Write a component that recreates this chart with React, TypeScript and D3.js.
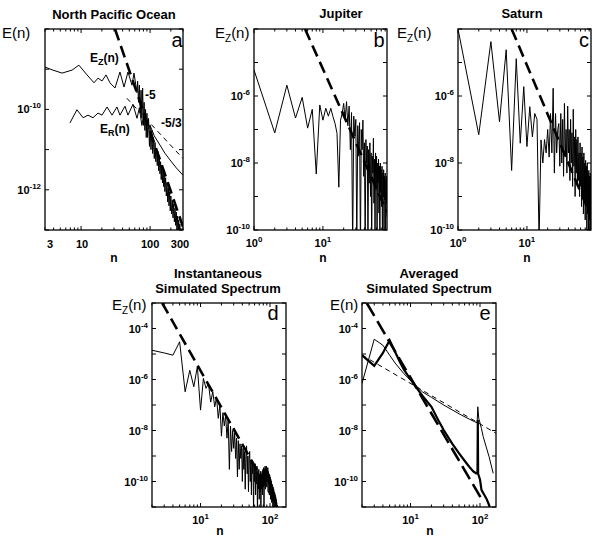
import React from 'react';
import * as d3 from 'd3';

type Pt = [number, number];

// ===================== DATA =====================
// (a) North Pacific Ocean
const pacificEZ: Pt[] = [
  [3, 1.13e-9], [3.9, 9.5e-10], [5.3, 8.0e-10], [7.4, 9.5e-10], [9.3, 1.26e-9],
  [12.2, 7.2e-10], [15.4, 4.6e-10], [17.6, 6.0e-10], [20.1, 5.1e-10], [23, 7.2e-10],
  [26.2, 4.6e-10], [31, 3.4e-10], [36.6, 8.5e-10], [41.9, 3.6e-10], [47.8, 8.5e-10],
  [54.7, 4.0e-10], [58.5, 8.0e-10], [64.6, 2.6e-10],
  [66, 5e-10], [68, 1.5e-10], [70, 4e-10], [72, 8e-11], [74, 3e-10], [76, 6e-11],
  [78, 3.4e-10], [80, 4e-11], [82, 1.5e-10], [84, 3e-11], [86, 1e-10], [88, 2e-11],
  [90, 8e-11], [92, 2e-11], [95, 6e-11], [98, 1.2e-11], [100, 4e-11], [103, 1e-11],
  [106, 3e-11], [109, 8e-12], [112, 2e-11], [115, 6e-12], [118, 1.5e-11], [121, 5e-12],
  [124, 1.1e-11], [127, 4e-12], [130, 9e-12], [133, 3e-12], [136, 7e-12], [139, 2.5e-12],
  [142, 5e-12], [145, 1.8e-12], [148, 4e-12], [151, 1.5e-12], [154, 3e-12], [157, 1.2e-12],
  [160, 2.5e-12], [164, 9e-13], [168, 2e-12], [172, 7e-13], [176, 1.5e-12], [180, 5e-13],
  [184, 1.1e-12], [188, 4e-13], [192, 9e-13], [196, 3e-13], [200, 7e-13], [205, 2.5e-13],
  [210, 5.5e-13], [215, 2e-13], [220, 4.5e-13], [225, 1.6e-13], [230, 3.5e-13], [235, 1.3e-13],
  [240, 2.8e-13], [245, 1e-13], [250, 2.2e-13], [255, 8e-14], [260, 1.8e-13], [265, 7e-14],
  [270, 1.4e-13], [275, 6e-14], [280, 1.1e-13], [285, 5e-14], [290, 9e-14], [295, 4e-14],
  [300, 7e-14],
];
const pacificER: Pt[] = [
  [6.9, 4.6e-11], [8.7, 9.8e-11], [10.7, 6.2e-11], [12.6, 7.2e-11], [14.9, 6.2e-11],
  [17.6, 8.1e-11], [20.1, 7.2e-11], [23.8, 1.15e-10], [28.1, 7.2e-11], [33.1, 1.15e-10],
  [36.6, 7.2e-11], [43.3, 1.2e-10], [47.8, 7.2e-11], [56.5, 1.34e-10], [64.6, 6e-11],
  [70, 1.1e-10], [76, 4e-11], [82, 8e-11], [90, 3e-11], [100, 4e-11], [115, 2.2e-11],
  [139, 1.3e-11], [165, 8e-12], [195, 5.5e-12], [240, 3.5e-12], [300, 2.3e-12],
];
const pacificRef5: Pt[] = [[31, 1e-8], [300, 1.2e-13]];
const pacificRef53: Pt[] = [[46, 1.9e-10], [300, 6e-12]];
const pacificXTicks = [3, 10, 100, 300];
const pacificYTicks = [1e-10, 1e-12];

// (b) Jupiter, n = 1..85
const jupiterE = [
  6.0e-6, 7.9e-8, 2.1e-6, 2.2e-7, 9.1e-7, 1.1e-7, 4.0e-7, 4.7e-9, 5.4e-7, 1.9e-7,
  4.3e-7, 2.5e-7, 4.3e-7, 2.4e-7, 1.5e-7, 7.7e-8, 1.9e-9, 1.9e-7, 3.0e-7, 6.0e-7,
  2.0e-7, 6.8e-7, 1.3e-7, 5.0e-7, 2.5e-8, 3.2e-7, 3.0e-11, 2.5e-7, 6.3e-8, 2.0e-7,
  4.0e-11, 1.3e-7, 1.6e-8, 1.6e-7, 2.5e-11, 1.0e-7, 2.5e-8, 1.9e-7, 4.0e-9, 4.0e-8,
  3.0e-11, 5.0e-8, 1.0e-8, 3.2e-8, 5.0e-11, 2.5e-8, 2.5e-9, 4.0e-8, 1.0e-9, 2.0e-8,
  2.5e-11, 1.6e-8, 5.0e-9, 5.5e-8, 6.3e-10, 1.3e-8, 4.0e-11, 2.0e-8, 1.6e-9, 1.6e-8,
  3.0e-11, 1.0e-8, 2.5e-9, 1.3e-8, 3.2e-10, 8.0e-9, 2.5e-11, 1.0e-8, 1.3e-9, 6.3e-9,
  5.0e-10, 8.0e-9, 3.0e-11, 5.0e-9, 1.0e-9, 6.3e-9, 4.0e-11, 4.0e-9, 8.0e-10, 5.0e-9,
  3.0e-11, 3.2e-9, 6.3e-10, 4.0e-9, 2.5e-10,
];
const jupiterRef: Pt[] = [[5.5, 1e-4], [85, 3.4e-10]];

// (c) Saturn, n = 1..85
const saturnE = [
  1.0e-4, 7.0e-8, 4.2e-5, 1.7e-7, 2.4e-5, 6.0e-9, 1.3e-5, 3.9e-8, 1.9e-6, 3.1e-8,
  4.8e-7, 6.0e-8, 3.0e-7, 2.0e-7, 5.0e-11, 4.9e-8, 1.0e-8, 5.0e-8, 2.0e-8, 1.0e-7,
  1.5e-8, 3.0e-7, 2.0e-8, 1.7e-6, 5.0e-9, 3.0e-7, 2.0e-8, 1.0e-7, 1.5e-7, 8.0e-9,
  3.0e-7, 1.0e-8, 2.0e-7, 4.0e-9, 6.0e-7, 1.5e-8, 1.0e-7, 5.0e-9, 5.0e-7, 2.0e-8,
  1.0e-7, 3.0e-9, 2.0e-7, 1.0e-8, 8.0e-8, 2.0e-9, 4.0e-7, 8.0e-9, 6.0e-8, 1.0e-9,
  1.0e-7, 5.0e-9, 5.0e-8, 2.0e-9, 6.0e-8, 3.0e-9, 2.0e-8, 1.0e-9, 4.0e-8, 2.0e-9,
  2.0e-8, 5.0e-10, 3.0e-8, 1.0e-9, 1.5e-8, 3.0e-10, 2.0e-8, 8.0e-10, 1.0e-8, 2.0e-10,
  1.2e-8, 5.0e-10, 8.0e-9, 1.0e-10, 1.0e-8, 3.0e-10, 5.0e-9, 8.0e-11, 6.0e-9, 2.0e-10,
  4.0e-9, 6.0e-11, 5.0e-9, 1.0e-10, 3.0e-9,
];
const saturnRef: Pt[] = [[6, 1e-4], [85, 2.5e-10]];
const planetXTicks = [1, 10];
const planetYTicks = [1e-6, 1e-8, 1e-10];

// (d) Instantaneous simulated spectrum, n = 2..128
const instantE = [
  1.4e-5, 1.1e-5, 9.0e-6, 3.0e-5, 3.3e-7, 2.3e-6, 5.2e-7, 3.2e-6, 6.3e-8, 1.1e-6,
  4.5e-7, 7.0e-7, 1.3e-7, 3.3e-7, 8.5e-8, 2.0e-7, 3.0e-8, 1.0e-7, 6.0e-9, 5.0e-8,
  1.5e-8, 4.0e-8, 5.0e-9, 2.5e-8, 3.0e-10, 1.5e-8, 1.5e-9, 1.0e-8, 2.0e-9, 8.0e-9,
  8.0e-10, 5.0e-9, 1.5e-10, 4.0e-9, 3.0e-10, 3.0e-9, 8.0e-10, 2.5e-9, 1.0e-10, 2.0e-9,
  3.0e-10, 1.5e-9, 5.0e-11, 1.2e-9, 2.5e-9, 2.0e-10, 1.0e-9, 4.0e-11, 8.0e-10, 1.5e-9,
  1.0e-10, 7.0e-10, 3.0e-11, 6.0e-10, 2.0e-10, 5.0e-10, 5.0e-12, 4.0e-10, 1.0e-10, 5.0e-10,
  3.0e-11, 3.0e-10, 8.0e-11, 4.0e-10, 5.0e-12, 2.5e-10, 5.0e-11, 3.0e-10, 2.0e-11, 2.0e-10,
  4.0e-11, 2.5e-10, 5.0e-12, 2.0e-10, 5.0e-11, 2.5e-10, 3.0e-11, 3.0e-10, 6.0e-11, 3.5e-10,
  1.0e-11, 3.0e-10, 8.0e-11, 4.0e-10, 5.0e-11, 3.5e-10, 1.0e-10, 4.0e-10, 6.0e-11, 3.0e-10,
  1.0e-10, 3.5e-10, 4.0e-11, 2.5e-10, 8.0e-11, 2.0e-10, 3.0e-11, 1.8e-10, 6.0e-11, 1.5e-10,
  2.0e-11, 1.2e-10, 5.0e-11, 1.0e-10, 1.5e-11, 8.0e-11, 3.0e-11, 7.0e-11, 1.0e-11, 6.0e-11,
  2.0e-11, 5.0e-11, 8.0e-12, 4.0e-11, 1.5e-11, 3.5e-11, 6.0e-12, 3.0e-11, 1.0e-11, 2.5e-11,
  5.0e-12, 2.0e-11, 8.0e-12, 1.5e-11, 5.0e-12, 1.2e-11, 4.0e-12,
];
const instantRef: Pt[] = [[2.8, 1e-3], [130, 1e-11]];

// (e) Averaged simulated spectrum
const averagedThick: Pt[] = [
  [2, 9e-6], [3, 3.4e-6], [4, 1.1e-5], [5, 3.5e-5], [6, 1.2e-5], [7, 5e-6], [8, 2.5e-6],
  [10, 1.0e-6], [12, 5e-7], [15, 2.2e-7], [20, 8.5e-8], [25, 2.6e-8], [30, 1.05e-8],
  [40, 3e-9], [50, 1.26e-9], [60, 6.5e-10], [70, 3.8e-10], [80, 2.5e-10], [88, 2.1e-10],
  [92, 2.1e-10], [93, 2.6e-8], [94, 2.0e-10], [100, 1.2e-10], [105, 4.7e-11],
  [115, 3e-11], [125, 2e-11], [135, 1.2e-11], [145, 6e-12],
];
const averagedThin: Pt[] = [
  [2, 7e-7], [3, 3.8e-5], [4, 2.2e-5], [5, 9e-6], [6, 4.4e-6], [8, 1.7e-6], [11, 7.2e-7],
  [15, 3.2e-7], [20, 2.0e-7], [30, 1.0e-7], [50, 4.5e-8], [70, 2.8e-8], [84, 2.2e-8],
  [91, 2.0e-8], [93, 8.5e-8], [96, 3e-8], [105, 1.2e-8], [111, 5.8e-9], [135, 9.4e-10],
  [155, 2.1e-10],
];
const averagedRef5: Pt[] = [[2.34, 1e-3], [111, 1.6e-11]];
const averagedRef53: Pt[] = [[2, 9e-6], [170, 7.8e-9]];
const simXTicks = [10, 100];
const simYTicks = [1e-4, 1e-6, 1e-8, 1e-10];

// ===================== RENDERING =====================
const FONT = "'Liberation Sans', Arial, Helvetica, sans-serif";

type Box = { x0: number; x1: number; y0: number; y1: number };

function logTicks(min: number, max: number) {
  const out: { v: number; major: boolean }[] = [];
  for (let d = Math.floor(Math.log10(min)); d <= Math.ceil(Math.log10(max)); d++) {
    for (let k = 1; k < 10; k++) {
      const v = k * Math.pow(10, d);
      if (v >= min * 0.999 && v <= max * 1.001) out.push({ v, major: k === 1 });
    }
  }
  return out;
}

function decades(min: number, max: number) {
  const out: number[] = [];
  for (let d = Math.ceil(Math.log10(min) - 1e-9); d <= Math.floor(Math.log10(max) + 1e-9); d++) out.push(Math.pow(10, d));
  return out;
}

function Pow({ x, y, exp, anchor, size = 11 }: { x: number; y: number; exp: string; anchor: string; size?: number }) {
  return (
    <text x={x} y={y} textAnchor={anchor as any} fontFamily={FONT} fontWeight="bold" fontSize={size}>
      10<tspan dy={-5} fontSize={size * 0.72}>{exp}</tspan>
    </text>
  );
}

function Frame({ box, xs, ys, xLabels, yLabels, xPow, xLabelDx }: any) {
  const [dx0, dx1] = xs.domain();
  const [dy0, dy1] = ys.domain();
  const xt = logTicks(dx0, dx1);
  const yt = decades(dy0, dy1);
  return (
    <g>
      {xt.map((t, i) => {
        const x = xs(t.v);
        const L = t.major ? 4 : 2.5;
        return (
          <g key={'xt' + i}>
            <line x1={x} x2={x} y1={box.y1} y2={box.y1 - L} stroke="#000" strokeWidth={1} />
            <line x1={x} x2={x} y1={box.y0} y2={box.y0 + L} stroke="#000" strokeWidth={1} />
          </g>
        );
      })}
      {yt.map((v, i) => {
        const y = ys(v);
        return (
          <g key={'yt' + i}>
            <line x1={box.x0} x2={box.x0 + 4} y1={y} y2={y} stroke="#000" strokeWidth={1} />
            <line x1={box.x1} x2={box.x1 - 4} y1={y} y2={y} stroke="#000" strokeWidth={1} />
          </g>
        );
      })}
      <rect x={box.x0} y={box.y0} width={box.x1 - box.x0} height={box.y1 - box.y0} fill="none" stroke="#000" strokeWidth={1.3} />
      {xLabels.map((v: number, i: number) =>
        xPow ? (
          <Pow key={'xl' + i} x={xs(v)} y={box.y1 + 17} exp={String(Math.round(Math.log10(v)))} anchor="middle" />
        ) : (
          <text key={'xl' + i} x={xs(v) + (xLabelDx ? xLabelDx[i] : 0)} y={box.y1 + 18} textAnchor="middle" fontFamily={FONT} fontWeight="bold" fontSize={11}>
            {v}
          </text>
        )
      )}
      {yLabels.map((v: number, i: number) => (
        <Pow key={'yl' + i} x={box.x0 - 4} y={ys(v) + 4} exp={String(Math.round(Math.log10(v)))} anchor="end" />
      ))}
    </g>
  );
}

function scales(box: Box, xd: [number, number], yd: [number, number]) {
  const xs = d3.scaleLog().domain(xd).range([box.x0, box.x1]);
  const ys = d3.scaleLog().domain(yd).range([box.y1, box.y0]);
  const line = d3.line<Pt>().x((d) => xs(d[0])).y((d) => ys(d[1]));
  return { xs, ys, line };
}

const indexed = (vals: number[], start: number): Pt[] => vals.map((v, i) => [i + start, v]);

function YLabel({ x, y, sub }: { x: number; y: number; sub?: string }) {
  return (
    <text x={x} y={y} fontFamily={FONT} fontSize={15}>
      E{sub ? <tspan dy={4} fontSize={10}>{sub}</tspan> : null}
      {sub ? <tspan dy={-4}>(n)</tspan> : '(n)'}
    </text>
  );
}

export default function App() {
  const A: Box = { x0: 45, x1: 183, y0: 29, y1: 230 };
  const B: Box = { x0: 254, x1: 387, y0: 29, y1: 230 };
  const C: Box = { x0: 458, x1: 591, y0: 29, y1: 230 };
  const D: Box = { x0: 152, x1: 286, y0: 303, y1: 507 };
  const E: Box = { x0: 362, x1: 496, y0: 303, y1: 507 };

  const sa = scales(A, [3, 300], [1e-13, 1e-8]);
  const sb = scales(B, [1, 85], [1e-10, 1e-4]);
  const sc = scales(C, [1, 85], [1e-10, 1e-4]);
  const sd = scales(D, [2, 170], [1e-11, 1e-3]);
  const se = scales(E, [2, 170], [1e-11, 1e-3]);

  const clip = (id: string, b: Box) => (
    <clipPath id={id}>
      <rect x={b.x0} y={b.y0} width={b.x1 - b.x0} height={b.y1 - b.y0} />
    </clipPath>
  );
  const thick = { fill: 'none', stroke: '#000', strokeWidth: 2.6, strokeDasharray: '12 6' };
  const thinDash = { fill: 'none', stroke: '#000', strokeWidth: 1, strokeDasharray: '5 4' };
  const thin = { fill: 'none', stroke: '#000', strokeWidth: 1 };

  const title = { fontFamily: FONT, fontWeight: 'bold' as const, fontSize: 13, textAnchor: 'middle' as const };
  const letter = { fontFamily: FONT, fontSize: 20, textAnchor: 'middle' as const };
  const nLab = { fontFamily: FONT, fontWeight: 'bold' as const, fontSize: 12, textAnchor: 'middle' as const };
  const ann = { fontFamily: FONT, fontWeight: 'bold' as const, fontSize: 12 };

  return (
    <svg width={592} height={537} style={{ position: 'absolute', left: 0, top: 0, background: '#fff' }}>
      <defs>
        {clip('ca', A)}
        {clip('cb', B)}
        {clip('cc', C)}
        {clip('cd', D)}
        {clip('ce', E)}
      </defs>
      <rect x={0} y={0} width={592} height={537} fill="#fff" />

      {/* Panel a */}
      <g clipPath="url(#ca)">
        <path d={sa.line(pacificEZ) || ''} {...thin} />
        <path d={sa.line(pacificER) || ''} {...thin} />
        <path d={sa.line(pacificRef5) || ''} {...thick} />
        <path d={sa.line(pacificRef53) || ''} {...thinDash} />
      </g>
      <Frame box={A} xs={sa.xs} ys={sa.ys} xLabels={pacificXTicks} yLabels={pacificYTicks} xPow={false} xLabelDx={[5, 1, 0, -3]} />
      <text x={114} y={19} {...title}>North Pacific Ocean</text>
      <YLabel x={2} y={38} />
      <text x={177} y={47} {...letter}>a</text>
      <text x={114} y={262} {...nLab}>n</text>
      <text x={90} y={62} {...ann}>E<tspan dy={3} fontSize={9}>Z</tspan><tspan dy={-3}>(n)</tspan></text>
      <text x={100} y={133} {...ann}>E<tspan dy={3} fontSize={9}>R</tspan><tspan dy={-3}>(n)</tspan></text>
      <text x={145} y={99} {...ann}>-5</text>
      <text x={161} y={127} {...ann}>-5/3</text>

      {/* Panel b */}
      <g clipPath="url(#cb)">
        <path d={sb.line(indexed(jupiterE, 1)) || ''} {...thin} />
        <path d={sb.line(jupiterRef) || ''} {...thick} />
      </g>
      <Frame box={B} xs={sb.xs} ys={sb.ys} xLabels={planetXTicks} yLabels={planetYTicks} xPow={true} />
      <text x={341} y={18} {...title}>Jupiter</text>
      <YLabel x={215} y={38} sub="Z" />
      <text x={379} y={47} {...letter}>b</text>
      <text x={323} y={262} {...nLab}>n</text>

      {/* Panel c */}
      <g clipPath="url(#cc)">
        <path d={sc.line(indexed(saturnE, 1)) || ''} {...thin} />
        <path d={sc.line(saturnRef) || ''} {...thick} />
      </g>
      <Frame box={C} xs={sc.xs} ys={sc.ys} xLabels={planetXTicks} yLabels={planetYTicks} xPow={true} />
      <text x={522} y={18} {...title}>Saturn</text>
      <YLabel x={397} y={38} sub="Z" />
      <text x={584} y={47} {...letter}>c</text>
      <text x={527} y={262} {...nLab}>n</text>

      {/* Panel d */}
      <g clipPath="url(#cd)">
        <path d={sd.line(indexed(instantE, 2)) || ''} {...thin} />
        <path d={sd.line(instantRef) || ''} {...thick} />
      </g>
      <Frame box={D} xs={sd.xs} ys={sd.ys} xLabels={simXTicks} yLabels={simYTicks} xPow={true} />
      <text x={218} y={278} {...title}>Instantaneous</text>
      <text x={218} y={293} {...title}>Simulated Spectrum</text>
      <YLabel x={112} y={310} sub="Z" />
      <text x={273} y={320} {...letter}>d</text>
      <text x={220} y={535} {...nLab}>n</text>

      {/* Panel e */}
      <g clipPath="url(#ce)">
        <path d={se.line(averagedRef53) || ''} {...thinDash} />
        <path d={se.line(averagedThin) || ''} {...thin} />
        <path d={se.line(averagedThick) || ''} fill="none" stroke="#000" strokeWidth={2.2} />
        <path d={se.line(averagedRef5) || ''} {...thick} strokeDasharray="15 6" />
      </g>
      <Frame box={E} xs={se.xs} ys={se.ys} xLabels={simXTicks} yLabels={simYTicks} xPow={true} />
      <text x={429} y={278} {...title}>Averaged</text>
      <text x={429} y={293} {...title}>Simulated Spectrum</text>
      <YLabel x={330} y={310} />
      <text x={485} y={320} {...letter}>e</text>
      <text x={430} y={535} {...nLab}>n</text>
    </svg>
  );
}
